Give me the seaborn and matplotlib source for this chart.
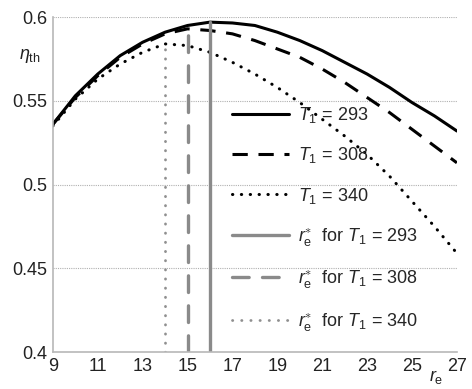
import matplotlib
matplotlib.use("Agg")
import matplotlib.pyplot as plt
import seaborn as sns
import pandas as pd
import numpy as np

# ---- data ----
r_e = [9, 10, 11, 12, 13, 14, 15, 16, 17, 18, 19, 20, 21, 22, 23, 24, 25, 26, 27]
eta_293 = [0.536, 0.553, 0.566, 0.577, 0.585, 0.591, 0.595, 0.597, 0.5965, 0.595,
           0.591, 0.586, 0.580, 0.573, 0.566, 0.558, 0.549, 0.541, 0.532]
eta_308 = [0.536, 0.552, 0.565, 0.576, 0.584, 0.590, 0.593, 0.592, 0.590, 0.586,
           0.581, 0.576, 0.569, 0.561, 0.552, 0.543, 0.533, 0.523, 0.513]
eta_340 = [0.535, 0.551, 0.563, 0.572, 0.579, 0.584, 0.583, 0.579, 0.573, 0.566,
           0.558, 0.549, 0.539, 0.529, 0.518, 0.505, 0.490, 0.475, 0.459]
T1_values = [293, 308, 340]
r_opt = [16, 15, 14]
eta_opt = [0.597, 0.593, 0.584]
y_floor = 0.4
x_ticks = [9, 11, 13, 15, 17, 19, 21, 23, 25, 27]
y_ticks = [0.4, 0.45, 0.5, 0.55, 0.6]
y_tick_labels = ["0.4", "0.45", "0.5", "0.55", "0.6"]

sns.set_theme(style="white")
plt.rcParams["font.family"] = ["Liberation Sans", "DejaVu Sans"]
plt.rcParams["mathtext.fontset"] = "custom"
plt.rcParams["mathtext.rm"] = "Liberation Sans"
plt.rcParams["mathtext.it"] = "Liberation Sans:italic"
plt.rcParams["mathtext.bf"] = "Liberation Sans:bold"

fig = plt.figure(figsize=(4.72, 3.89), dpi=100)
ax = fig.add_axes([0.112, 0.095, 0.856, 0.861])

curves = [eta_293, eta_308, eta_340]
curve_styles = [dict(linestyle="-"),
                dict(linestyle=(0, (5, 3.5)), dash_capstyle="butt"),
                dict(linestyle=(0, (0.1, 2.8)), dash_capstyle="round")]
for T, eta, st in zip(T1_values, curves, curve_styles):
    df = pd.DataFrame({"r_e": r_e, "eta": eta})
    sns.lineplot(data=df, x="r_e", y="eta", ax=ax, color="black", lw=2.2,
                 label=f"$T_1$ = {T}", **st)

vert_styles = [dict(linestyle="-", color="#8a8a8a", lw=2.4),
               dict(linestyle=(0, (5, 4)), color="#8a8a8a", lw=2.4, dash_capstyle="round"),
               dict(linestyle=(0, (0.1, 3.2)), color="#8f8f8f", lw=2.0, dash_capstyle="round")]
for T, xr, yo, st in zip(T1_values, r_opt, eta_opt, vert_styles):
    df = pd.DataFrame({"r_e": [xr, xr], "eta": [y_floor, yo]})
    sns.lineplot(data=df, x="r_e", y="eta", ax=ax, sort=False, estimator=None,
                 label=r"$r_{\rm e}^{\ast}$  for $T_1$ = " + str(T), **st)

ax.set_xlim(9, 27)
ax.set_ylim(0.4, 0.6)
ax.set_xticks(x_ticks)
ax.set_yticks(y_ticks)
ax.set_yticklabels(y_tick_labels)
ax.tick_params(axis="both", length=0, labelsize=13, colors="#222222", pad=4)
ax.yaxis.grid(True, linestyle=(0, (1, 1)), color="#b0b0b0", lw=0.8)
ax.xaxis.grid(False)
for s in ["top", "right"]:
    ax.spines[s].set_visible(False)
for s in ["left", "bottom"]:
    ax.spines[s].set_color("#b8b8b8")
    ax.spines[s].set_linewidth(1.2)

ax.set_xlabel("")
ax.set_ylabel("")
fig.text(0.063, 0.855, r"$\eta_{\rm th}$", fontsize=13, ha="center", va="center", color="#222222")
fig.text(0.925, 0.03, r"$r_{\rm e}$", fontsize=13, ha="center", va="center", color="#222222")

leg = ax.legend(loc="upper left", bbox_to_anchor=(0.42, 0.765), frameon=False,
                fontsize=13, handlelength=3.2, labelspacing=1.13, handletextpad=0.5,
                borderpad=0.0)

fig.savefig("out.png", dpi=100)
